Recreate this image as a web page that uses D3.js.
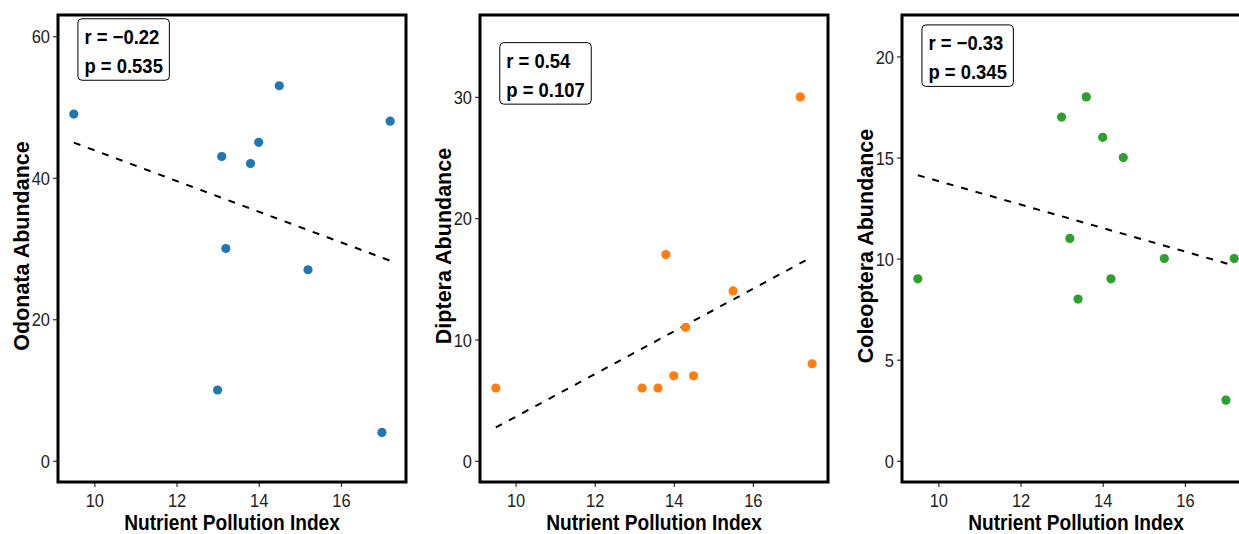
<html>
<head>
    <script src="https://d3js.org/d3.v7.min.js"></script>
    <style>
        body { margin: 0; background: #fff; }
        text { font-family: "Liberation Sans", Arial, sans-serif; }
        .axisTitle { font-size: 21.5px; font-weight: bold; fill: #000; }
        .statLabel { font-size: 20.5px; font-weight: bold; fill: #000; }
    </style>
</head>
<body>
<svg id="chart" width="1239" height="534"></svg>
<script>
    // values
    const xTicks = [10, 12, 14, 16];

    const odonataX = [9.5, 13.0, 13.1, 13.2, 13.8, 14.0, 14.5, 15.2, 17.0, 17.2];
    const odonataY = [49, 10, 43, 30, 42, 45, 53, 27, 4, 48];
    const odonataTicks = [0, 20, 40, 60];

    const dipteraX = [9.5, 13.2, 13.6, 13.8, 14.0, 14.3, 14.5, 15.5, 17.2, 17.5];
    const dipteraY = [6, 6, 6, 17, 7, 11, 7, 14, 30, 8];
    const dipteraTicks = [0, 10, 20, 30];

    const coleopteraX = [9.5, 13.0, 13.2, 13.4, 13.6, 14.0, 14.2, 14.5, 15.5, 17.0, 17.2];
    const coleopteraY = [9, 17, 11, 8, 18, 16, 9, 15, 10, 3, 10];
    const coleopteraTicks = [0, 5, 10, 15, 20];

    const rLabels = ["r = \u22120.22", "r = 0.54", "r = \u22120.33"];
    const pLabels = ["p = 0.535", "p = 0.107", "p = 0.345"];
    const yTitles = ["Odonata Abundance", "Diptera Abundance", "Coleoptera Abundance"];
    const xTitle = "Nutrient Pollution Index";

    const panels = [
        {xs: odonataX, ys: odonataY, ticks: odonataTicks, yMax: 60, labelY: 62.47, color: "#1f77b4", left: 58},
        {xs: dipteraX, ys: dipteraY, ticks: dipteraTicks, yMax: 35, labelY: 34.47, color: "#ff7f0e", left: 480},
        {xs: coleopteraX, ys: coleopteraY, ticks: coleopteraTicks, yMax: 21, labelY: 21.56, color: "#2ca02c", left: 902}
    ];

    const svg = d3.select("#chart");
    const plotTop = 15, plotBottom = 482, panelW = 348;
    // the reference text is a bit squeezed horizontally
    const squeeze = 0.89, labelSqueeze = 0.9;

    panels.forEach((p, i) => {
        const ext = d3.extent(p.xs);
        const pad = (ext[1] - ext[0]) * 0.05;
        const x = d3.scaleLinear().domain([ext[0] - pad, ext[1] + pad]).range([p.left, p.left + panelW]);
        const y = d3.scaleLinear().domain([-p.yMax * 0.05, p.yMax * 1.05]).range([plotBottom, plotTop]);

        const g = svg.append("g");

        // axes (font-size has to go after .call, the axis sets its own)
        const xAxis = g.append("g")
            .attr("transform", "translate(0," + plotBottom + ")")
            .call(d3.axisBottom(x).tickValues(xTicks).tickSize(5).tickSizeOuter(0))
            .attr("font-size", 18.5)
            .attr("color", "#222");
        xAxis.select(".domain").remove();
        xAxis.selectAll(".tick line").attr("stroke-width", 1.1);
        xAxis.selectAll(".tick text")
            .attr("y", 25).attr("dy", "0")
            .attr("transform", "scale(" + squeeze + ",1)");

        const yAxis = g.append("g")
            .attr("transform", "translate(" + p.left + ",0)")
            .call(d3.axisLeft(y).tickValues(p.ticks).tickSize(5).tickSizeOuter(0))
            .attr("font-size", 18.5)
            .attr("color", "#222");
        yAxis.select(".domain").remove();
        yAxis.selectAll(".tick line").attr("stroke-width", 1.1);
        yAxis.selectAll(".tick text")
            .attr("x", -8 / squeeze).attr("dy", "0.36em")
            .attr("transform", "scale(" + squeeze + ",1)");

        // least squares fit, like geom_smooth(method = "lm")
        const mx = d3.mean(p.xs), my = d3.mean(p.ys);
        const sxy = d3.sum(p.xs, (v, j) => (v - mx) * (p.ys[j] - my));
        const sxx = d3.sum(p.xs, v => (v - mx) * (v - mx));
        const b = sxy / sxx, a = my - b * mx;
        const fit = ext.map(v => [v, a + b * v]);

        g.append("path")
            .datum(fit)
            .attr("fill", "none")
            .attr("stroke", "#000")
            .attr("stroke-width", 2)
            .attr("stroke-dasharray", "7,8")
            .attr("d", d3.line().x(d => x(d[0])).y(d => y(d[1])));

        g.selectAll("circle.pt")
            .data(p.xs.map((v, j) => [v, p.ys[j]]))
            .join("circle")
            .attr("class", "pt")
            .attr("cx", d => x(d[0]))
            .attr("cy", d => y(d[1]))
            .attr("r", 4.6)
            .attr("fill", p.color);

        // r / p label
        const lab = g.append("g")
            .attr("transform", "translate(" + x(9.6) + "," + y(p.labelY) + ")");
        const t1 = lab.append("text").attr("class", "statLabel")
            .attr("transform", "translate(6.5,25) scale(" + labelSqueeze + ",1)")
            .text(rLabels[i]);
        const t2 = lab.append("text").attr("class", "statLabel")
            .attr("transform", "translate(6.5,54.5) scale(" + labelSqueeze + ",1)")
            .text(pLabels[i]);
        const w = Math.max(t1.node().getComputedTextLength(), t2.node().getComputedTextLength()) * labelSqueeze + 13;
        lab.insert("rect", "text")
            .attr("width", w)
            .attr("height", 61.5)
            .attr("rx", 4)
            .attr("fill", "#fff")
            .attr("stroke", "#000")
            .attr("stroke-width", 1);

        // panel border
        g.append("rect")
            .attr("x", p.left)
            .attr("y", plotTop)
            .attr("width", panelW)
            .attr("height", plotBottom - plotTop)
            .attr("fill", "none")
            .attr("stroke", "#000")
            .attr("stroke-width", 3);

        // axis titles
        g.append("text").attr("class", "axisTitle")
            .attr("text-anchor", "middle")
            .attr("transform", "translate(" + (p.left + panelW / 2) + ",530) scale(" + squeeze + ",1)")
            .text(xTitle);

        g.append("text").attr("class", "axisTitle")
            .attr("text-anchor", "middle")
            .attr("transform", "translate(" + (p.left - 29) + ",246) rotate(-90)")
            .text(yTitles[i]);
    });
</script>
</body>
</html>
